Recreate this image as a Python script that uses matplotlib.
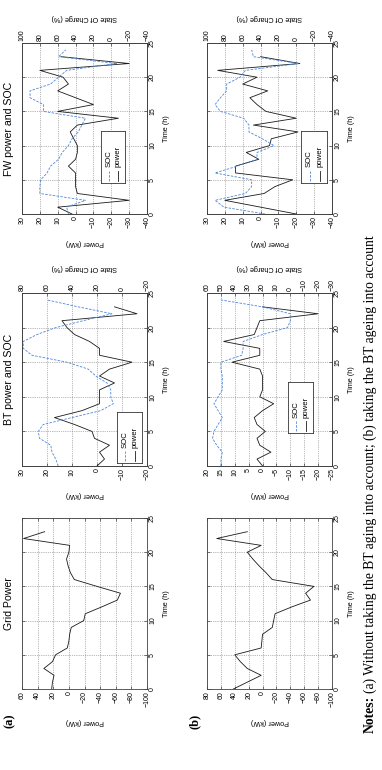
import matplotlib
matplotlib.use('Agg')
import matplotlib.pyplot as plt

# ---------------- data ----------------
hours = list(range(24))          # power samples (h)
hours_soc = list(range(25))      # SOC samples (h)
time_ticks = [0, 5, 10, 15, 20, 25]

# (a) without BT ageing
grid_a = [22, 21, 19, 32, 21, 17, 2, 0, -1, -3, -19, -21, -42, -62, -66, -36, -7, -2, 1, 3, 0, -1, 58, 31]
bt_a = [0, -3, -1, -5, 1, 2, 9, 17, 6, -1, -1, -1, -7, -1, -5, -14, -1, -1, 3, 9, 12, 14, -16, -7]
bt_soc_a = [51, 53, 56, 57, 66, 67, 63, 40, 17, 7, 9, 9, 12, 21, 27, 44, 72, 79, 79, 68, 53, 31, 8, 35, 60]
fw_a = [2, 10, -30, -1, 0, 0, 0, 4, 0, -1, -1, 1, 3, -1, -24, 10, -10, 0, 10, 4, 7, 20, -30, 8]
fw_soc_a = [48, 50, 29, 80, 80, 79, 72, 68, 59, 55, 48, 44, 37, 33, 29, 76, 76, 91, 91, 68, 59, 50, -6, 59, 51]

# (b) with BT ageing
grid_b = [42, 22, 2, 22, 32, 40, 2, 1, 0, -14, -16, -18, -42, -69, -62, -74, -14, -5, 5, 14, 22, 2, 66, 22]
bt_b = [0, 2, -3, 1, 2, -1, 2, 3, 0, -4, 1, 0, 0, 0, 1, 11, 1, 1, 14, 3, 2, 1, -20, 0]
bt_soc_b = [50, 50, 49, 53, 56, 55, 52, 49, 52, 55, 52, 49, 49, 49, 50, 50, 35, 34, 34, 20, 2, 0, 0, 20, 50]
fw_b = [-20, 0, 20, -2, -8, -18, 14, 14, 1, 8, -5, -6, -21, 4, -20, -3, 2, 6, -4, 10, 2, 24, -22, 0]
fw_soc_b = [35, 81, 91, 57, 50, 50, 91, 66, 44, 44, 25, 38, 53, 53, 59, 85, 91, 85, 78, 78, 63, 57, -3, 48, 50]

# axis ranges / ticks
grid_a_ticks = [60, 40, 20, 0, -20, -40, -60, -80, -100]
grid_b_ticks = [80, 60, 40, 20, 0, -20, -40, -60, -80, -100]
bt_a_ticks = [30, 20, 10, 0, -10, -20]
bt_soc_a_ticks = [80, 60, 40, 20, 0, -20]
bt_b_ticks = [20, 15, 10, 5, 0, -5, -10, -15, -20, -25]
bt_soc_b_ticks = [60, 50, 40, 30, 20, 10, 0, -10, -20, -30]
fw_ticks = [30, 20, 10, 0, -10, -20, -30, -40]
fw_soc_ticks = [100, 80, 60, 40, 20, 0, -20, -40]

titles = ['Grid Power', 'BT power and SOC', 'FW power and SOC']
caption_bold = 'Notes:'
caption_rest = '(a) Without taking the BT aging into account; (b) taking the BT ageing into account'

# ---------------- style ----------------
W, H = 382, 770
SANS = ['Liberation Sans', 'DejaVu Sans']
SERIF = ['Liberation Serif', 'DejaVu Serif']
plt.rcParams['font.family'] = SANS
TS = 5.0      # tick font
LS = 5.2      # label font
PCOL = '#1a1a1a'
SCOL = '#4a86dc'
GRIDC = '0.45'

fig = plt.figure(figsize=(W / 100, H / 100), dpi=100)


def px_rect(x0, y0, x1, y1):
    return [x0 / W, (H - y1) / H, (x1 - x0) / W, (y1 - y0) / H]


def style_common(ax):
    for s in ax.spines.values():
        s.set_color('0.25')
        s.set_linewidth(0.6)


def make_panel(rect, power, pticks, soc=None, sticks=None):
    ax = fig.add_axes(rect)
    ax.plot(power, hours, color=PCOL, lw=0.6, zorder=3)
    ax.set_xlim(pticks[0], pticks[-1])
    ax.set_ylim(time_ticks[0], time_ticks[-1])
    ax.set_xticks(pticks)
    ax.set_yticks(time_ticks)
    ax.yaxis.tick_right()
    ax.yaxis.set_label_position('right')
    ax.tick_params(axis='x', labelrotation=90, labelsize=TS, direction='in',
                   length=2, width=0.5, pad=1.5, top=(soc is None), color='0.25')
    ax.tick_params(axis='y', labelrotation=90, labelsize=TS, direction='in',
                   length=2, width=0.5, pad=1.5, left=True, color='0.25')
    for lbl in ax.get_yticklabels():
        lbl.set_va('center')
    for lbl in ax.get_xticklabels():
        lbl.set_va('top')
    ax.set_xlabel('Power (kW)', rotation=180, fontsize=LS, labelpad=8)
    ax.set_ylabel('Time (h)', rotation=90, fontsize=LS, labelpad=5)
    ax.grid(True, ls=':', color=GRIDC, lw=0.5)
    style_common(ax)
    if soc is not None:
        ax2 = ax.twiny()
        ax2.plot(soc, hours_soc, color=SCOL, lw=0.6, ls=(0, (3, 1.6)), zorder=3)
        ax2.set_xlim(sticks[0], sticks[-1])
        ax2.set_xticks(sticks)
        ax2.tick_params(axis='x', labelrotation=90, labelsize=TS, direction='in',
                        length=2, width=0.5, pad=1.5, color='0.25')
        for lbl in ax2.get_xticklabels():
            lbl.set_va('bottom')
        ax2.set_xlabel('State Of Charge (%)', rotation=180, fontsize=LS, labelpad=7)
        style_common(ax2)
    return ax


def add_legend(rect):
    lax = fig.add_axes(rect, zorder=10)
    lax.set_xlim(0, 1)
    lax.set_ylim(0, 1)
    lax.set_xticks([])
    lax.set_yticks([])
    for s in lax.spines.values():
        s.set_color('0.2')
        s.set_linewidth(0.6)
    lax.plot([0.33, 0.33], [0.03, 0.24], color=SCOL, lw=0.6, ls=(0, (3, 1.6)))
    lax.plot([0.72, 0.72], [0.03, 0.24], color=PCOL, lw=0.6)
    lax.text(0.33, 0.30, 'SOC', rotation=90, ha='center', va='bottom', fontsize=5.6)
    lax.text(0.72, 0.30, 'power', rotation=90, ha='center', va='bottom', fontsize=5.6)


# column vertical extents (image px)
rows_y = {'grid': (518, 689), 'bt': (293, 466), 'fw': (43, 214)}
cols_x = {'a': (22, 147), 'b': (207, 332)}

for key, grid, bt, bts, fw, fws, gt, btt, btst in [
        ('a', grid_a, bt_a, bt_soc_a, fw_a, fw_soc_a, grid_a_ticks, bt_a_ticks, bt_soc_a_ticks),
        ('b', grid_b, bt_b, bt_soc_b, fw_b, fw_soc_b, grid_b_ticks, bt_b_ticks, bt_soc_b_ticks)]:
    x0, x1 = cols_x[key]
    make_panel(px_rect(x0, rows_y['grid'][0], x1, rows_y['grid'][1]), grid, gt)
    make_panel(px_rect(x0, rows_y['bt'][0], x1, rows_y['bt'][1]), bt, btt, bts, btst)
    make_panel(px_rect(x0, rows_y['fw'][0], x1, rows_y['fw'][1]), fw, fw_ticks, fws, fw_soc_ticks)

add_legend(px_rect(117, 412, 142, 463))
add_legend(px_rect(101, 131, 125, 183))
add_legend(px_rect(288, 382, 313, 433))
add_legend(px_rect(301, 131, 327, 183))

# titles (row a only)
for t, (y0, y1) in zip(titles, [rows_y['grid'], rows_y['bt'], rows_y['fw']]):
    fig.text(9 / W, 1 - (y0 + y1) / 2 / H, t, rotation=90, ha='center', va='center', fontsize=7.6)

# panel letters
fig.text(10 / W, 1 - 721 / H, '(a)', rotation=90, ha='center', va='center',
         fontsize=9, fontweight='bold', family=SERIF)
fig.text(195 / W, 1 - 721 / H, '(b)', rotation=90, ha='center', va='center',
         fontsize=9, fontweight='bold', family=SERIF)

# caption
CFS = 9.8
t1 = fig.text(370 / W, 1 - 733 / H, caption_bold, rotation=90, ha='center', va='bottom',
              fontsize=CFS, fontweight='bold', family=SERIF)
fig.canvas.draw()
bb = t1.get_window_extent()
fig.text(370 / W, (bb.y1 + 3) / H, caption_rest, rotation=90, ha='center', va='bottom',
         fontsize=CFS, family=SERIF)

fig.savefig('out.png', dpi=100)
